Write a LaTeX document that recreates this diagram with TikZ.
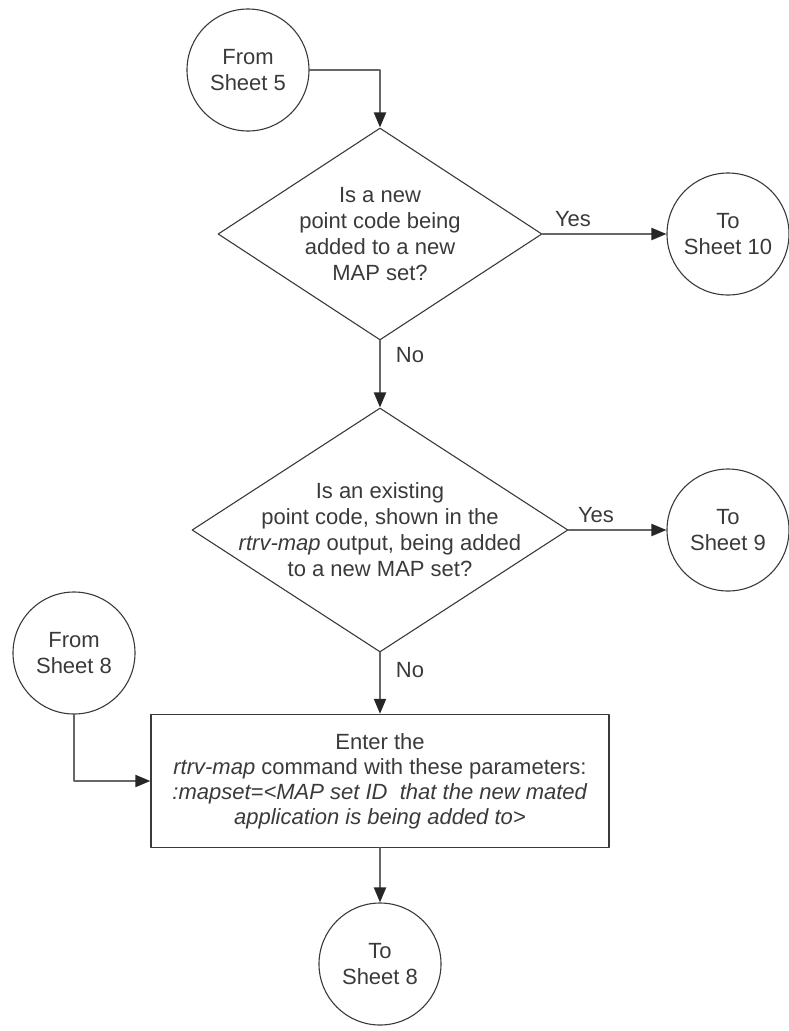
\documentclass[tikz,border=0pt]{standalone}
\usepackage{fontspec}
\setmainfont{Liberation Sans}
\usetikzlibrary{shapes.geometric,arrows.meta}
\definecolor{inkgray}{HTML}{3A3A3A}
\definecolor{wiregray}{HTML}{666666}

\begin{document}
\begin{tikzpicture}[x=1pt, y=-1pt, line cap=round, line join=round,
		font=\fontsize{22}{26}\selectfont, text=inkgray,
		offpage/.style={circle, draw=inkgray, line width=1.1pt, minimum size=122pt, inner sep=0pt, align=center},
		decision/.style={diamond, draw=inkgray, line width=1.1pt, inner sep=0pt},
		process/.style={rectangle, draw=inkgray, line width=1.3pt, minimum width=458pt, minimum height=133pt, inner sep=0pt, align=center},
		wire/.style={draw=wiregray, line width=2pt, -{Triangle[length=15pt, width=12pt, color=black!85]}}]
	% Khung ảnh
	\useasboundingbox (0,0) rectangle (789,1031);
	
	% Các ký hiệu nối trang
	\node[offpage] (from5) at (248,70) {From\\Sheet 5};
	\node[offpage] (to10) at (728,234) {To\\Sheet 10};
	\node[offpage] (to9) at (728,530) {To\\Sheet 9};
	\node[offpage] (from8) at (74,653) {From\\Sheet 8};
	\node[offpage] (to8) at (380,964) {To\\Sheet 8};
	
	% Hai ô quyết định
	\node[decision, minimum width=324pt, minimum height=212pt] (dec1) at (380,234) {};
	\node[align=center] (ask1) at (dec1) {Is a new\\point code being\\added to a new\\MAP set?};
	\node[decision, minimum width=376pt, minimum height=244pt] (dec2) at (380,530) {};
	\node[align=center] (ask2) at (dec2) {Is an existing\\point code, shown in the\\\textit{rtrv-map} output, being added\\to a new MAP set?};
	
	% Ô lệnh
	\node[process, font=\fontsize{22}{25}\selectfont] (enter) at (380,781) {Enter the\\\textit{rtrv-map} command with these parameters:\\\textit{:mapset=<MAP set ID\ \ that the new mated}\\\textit{application is being added to>}};
	
	% Các đường nối
	\draw[wire] (from5.east) -| (dec1.north);
	\draw[wire] (dec1.east) -- (to10.west);
	\draw[wire] (dec1.south) -- (dec2.north);
	\draw[wire] (dec2.east) -- (to9.west);
	\draw[wire] (dec2.south) -- (enter.north);
	\draw[wire] (from8.south) |- (enter.west);
	\draw[wire] (enter.south) -- (to8.north);
	
	% Nhãn Yes / No
	\foreach \n/\p/\t in {yes1/{573,219}/Yes, no1/{410,355}/No, yes2/{596,515}/Yes, no2/{410,670}/No} {
		\node (\n) at (\p) {\t};
	}
\end{tikzpicture}
\end{document}
